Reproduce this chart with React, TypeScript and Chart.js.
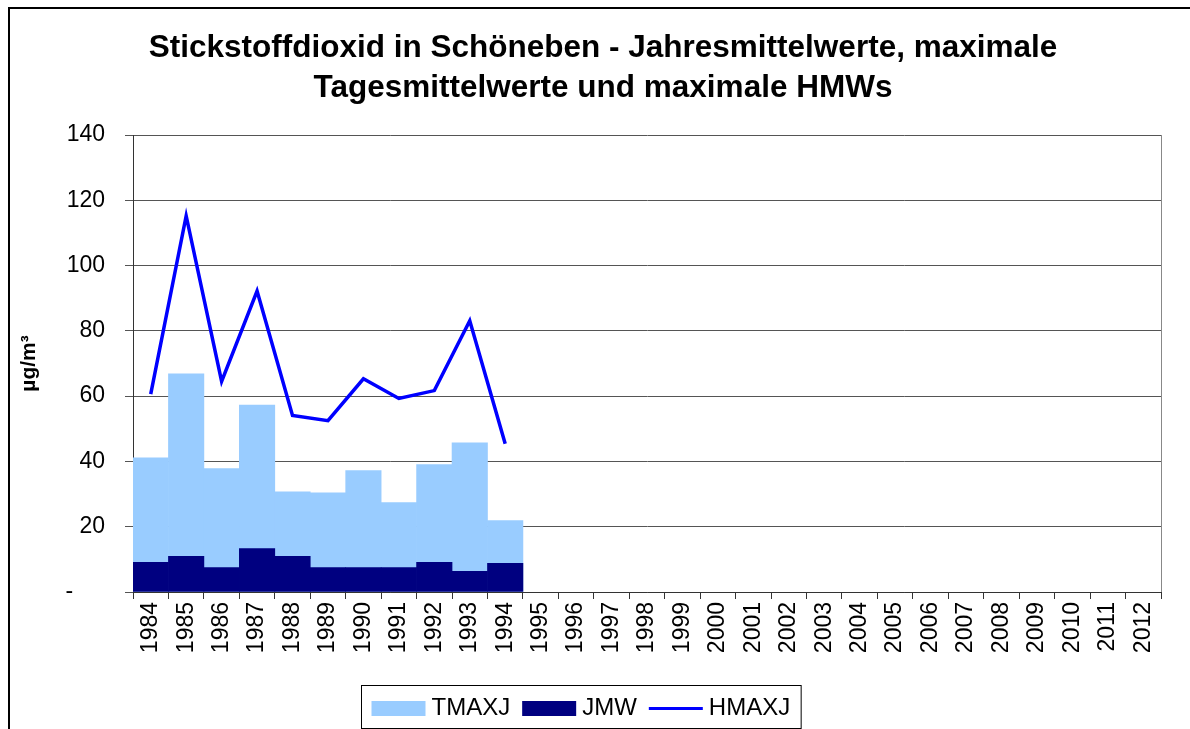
import React, { useEffect, useRef } from "react";
import { Chart, registerables } from "chart.js";

Chart.register(...registerables);

const YEARS = [
  "1984", "1985", "1986", "1987", "1988", "1989", "1990", "1991", "1992", "1993",
  "1994", "1995", "1996", "1997", "1998", "1999", "2000", "2001", "2002", "2003",
  "2004", "2005", "2006", "2007", "2008", "2009", "2010", "2011", "2012",
];

const TMAXJ = [
  41.1, 66.8, 37.8, 57.3, 30.7, 30.4, 37.2, 27.4, 39.0, 45.7,
  21.9, null, null, null, null, null, null, null, null, null,
  null, null, null, null, null, null, null, null, null,
];

const JMW = [
  9.1, 10.9, 7.5, 13.3, 10.9, 7.5, 7.5, 7.5, 9.1, 6.3,
  8.8, null, null, null, null, null, null, null, null, null,
  null, null, null, null, null, null, null, null, null,
];

const HMAXJ = [
  60.6, 115.2, 64.5, 92.2, 54.1, 52.5, 65.3, 59.3, 61.7, 83.1,
  45.4, null, null, null, null, null, null, null, null, null,
  null, null, null, null, null, null, null, null, null,
];

const TITLE_LINES = [
  "Stickstoffdioxid in Schöneben - Jahresmittelwerte, maximale",
  "Tagesmittelwerte und maximale HMWs",
];
const Y_TITLE = "µg/m³";
const SERIES_NAMES = ["TMAXJ", "JMW", "HMAXJ"];

const Y_MIN = 0;
const Y_MAX = 140;
const Y_STEP = 20;

const FONT_FAMILY = '"Liberation Sans", Arial, Helvetica, sans-serif';
const COLOR_LIGHT = "#99CCFF";
const COLOR_NAVY = "#000080";
const COLOR_LINE = "#0000FF";

const framePlugin = {
  id: "frame",
  beforeDraw(chart: any) {
    const ctx = chart.ctx;
    ctx.save();
    ctx.fillStyle = "#ffffff";
    ctx.fillRect(0, 0, chart.width, chart.height);
    ctx.fillStyle = "#000000";
    ctx.fillRect(8, 7, chart.width - 8, 2);
    ctx.fillRect(8, 7, 2, chart.height - 7);
    ctx.restore();
  },
  afterLayout(chart: any) {
    const t = chart.titleBlock;
    if (t) {
      t.left = 45;
      t.width = t.right - t.left;
    }
  },
  afterDraw(chart: any) {
    const ctx = chart.ctx;
    const area = chart.chartArea;
    ctx.save();
    // right border of plot area
    ctx.strokeStyle = "#888888";
    ctx.lineWidth = 1;
    ctx.beginPath();
    ctx.moveTo(Math.round(area.right) + 0.5, area.top);
    ctx.lineTo(Math.round(area.right) + 0.5, area.bottom);
    ctx.stroke();

    // custom legend
    const fontSize = 24;
    ctx.font = `${fontSize}px ${FONT_FAMILY}`;
    const swW = 54;
    const swH = 15;
    const gap = 6;
    const itemGap = 12;
    const padL = 10;
    const padR = 11;
    const ds = chart.data.datasets;
    const widths = ds.map((d: any) => swW + gap + ctx.measureText(d.label).width);
    const inner = widths.reduce((a: number, b: number) => a + b, 0) + itemGap * (ds.length - 1);
    const boxW = inner + padL + padR;
    const boxH = 43;
    const center = (chart.width - 29) / 2;
    const boxLeft = Math.round(center - boxW / 2) + 0.5;
    const boxTop = chart.height - 44 + 0.5;
    ctx.strokeStyle = "#000000";
    ctx.lineWidth = 1;
    ctx.strokeRect(boxLeft, boxTop, boxW, boxH);
    const midY = boxTop + 23;
    let x = boxLeft + padL;
    ds.forEach((d: any, i: number) => {
      if (d.type === "line") {
        ctx.strokeStyle = d.borderColor;
        ctx.lineWidth = 3;
        ctx.beginPath();
        ctx.moveTo(x, midY);
        ctx.lineTo(x + swW, midY);
        ctx.stroke();
      } else {
        ctx.fillStyle = d.backgroundColor;
        ctx.fillRect(x, midY - swH / 2, swW, swH);
      }
      ctx.fillStyle = "#000000";
      ctx.textBaseline = "middle";
      ctx.textAlign = "left";
      ctx.fillText(d.label, x + swW + gap, midY);
      x += widths[i] + itemGap;
    });
    ctx.restore();
  },
};

export default function App() {
  const canvasRef = useRef<HTMLCanvasElement | null>(null);

  useEffect(() => {
    if (!canvasRef.current) return;
    Chart.defaults.font.family = FONT_FAMILY;
    Chart.defaults.color = "#000000";
    const chart = new Chart(canvasRef.current, {
      type: "bar",
      data: {
        labels: YEARS,
        datasets: [
          {
            type: "bar",
            label: SERIES_NAMES[0],
            data: TMAXJ,
            backgroundColor: COLOR_LIGHT,
            borderWidth: 0,
            grouped: false,
            barPercentage: 1,
            categoryPercentage: 1,
            order: 2,
          },
          {
            type: "bar",
            label: SERIES_NAMES[1],
            data: JMW,
            backgroundColor: COLOR_NAVY,
            borderWidth: 0,
            grouped: false,
            barPercentage: 1,
            categoryPercentage: 1,
            order: 1,
          },
          {
            type: "line",
            label: SERIES_NAMES[2],
            data: HMAXJ,
            borderColor: COLOR_LINE,
            backgroundColor: COLOR_LINE,
            borderWidth: 3.5,
            pointRadius: 0,
            tension: 0,
            spanGaps: false,
            order: 0,
          },
        ] as any,
      },
      options: {
        responsive: false,
        animation: false,
        devicePixelRatio: 1,
        layout: { padding: { left: 0, right: 29, top: 0, bottom: 57 } },
        plugins: {
          legend: { display: false },
          tooltip: { enabled: false },
          title: {
            display: true,
            text: TITLE_LINES,
            color: "#000000",
            font: { size: 31.5, weight: "bold", lineHeight: 40 / 31.5 },
            padding: { top: 28.5, bottom: 26.5 },
          },
        },
        scales: {
          x: {
            ticks: {
              color: "#000000",
              font: { size: 23 },
              autoSkip: false,
              maxRotation: 90,
              minRotation: 90,
              padding: 3,
            },
            grid: {
              offset: true,
              drawOnChartArea: false,
              drawTicks: true,
              tickLength: 7,
              color: "#333333",
            },
            border: { color: "#333333", width: 1 },
            afterFit: (s: any) => {
              s.height = 80;
            },
          },
          y: {
            min: Y_MIN,
            max: Y_MAX,
            ticks: {
              stepSize: Y_STEP,
              color: "#000000",
              font: { size: 23 },
              padding: 20,
              callback: (v: any) => (Number(v) === 0 ? "-     " : String(v)),
            },
            grid: { color: "#555555", lineWidth: 1, tickLength: 8, drawTicks: true },
            border: { color: "#333333", width: 1 },
            title: {
              display: true,
              text: Y_TITLE,
              color: "#000000",
              font: { size: 21, weight: "bold" },
              padding: { top: 17, bottom: 0 },
            },
            afterFit: (s: any) => {
              s.width = 133;
            },
          },
        },
      } as any,
      plugins: [framePlugin],
    });
    return () => chart.destroy();
  }, []);

  return (
    <div style={{ position: "fixed", left: 0, top: 0, width: 1190, height: 729, background: "#fff" }}>
      <canvas ref={canvasRef} width={1190} height={729} style={{ display: "block" }} />
    </div>
  );
}
